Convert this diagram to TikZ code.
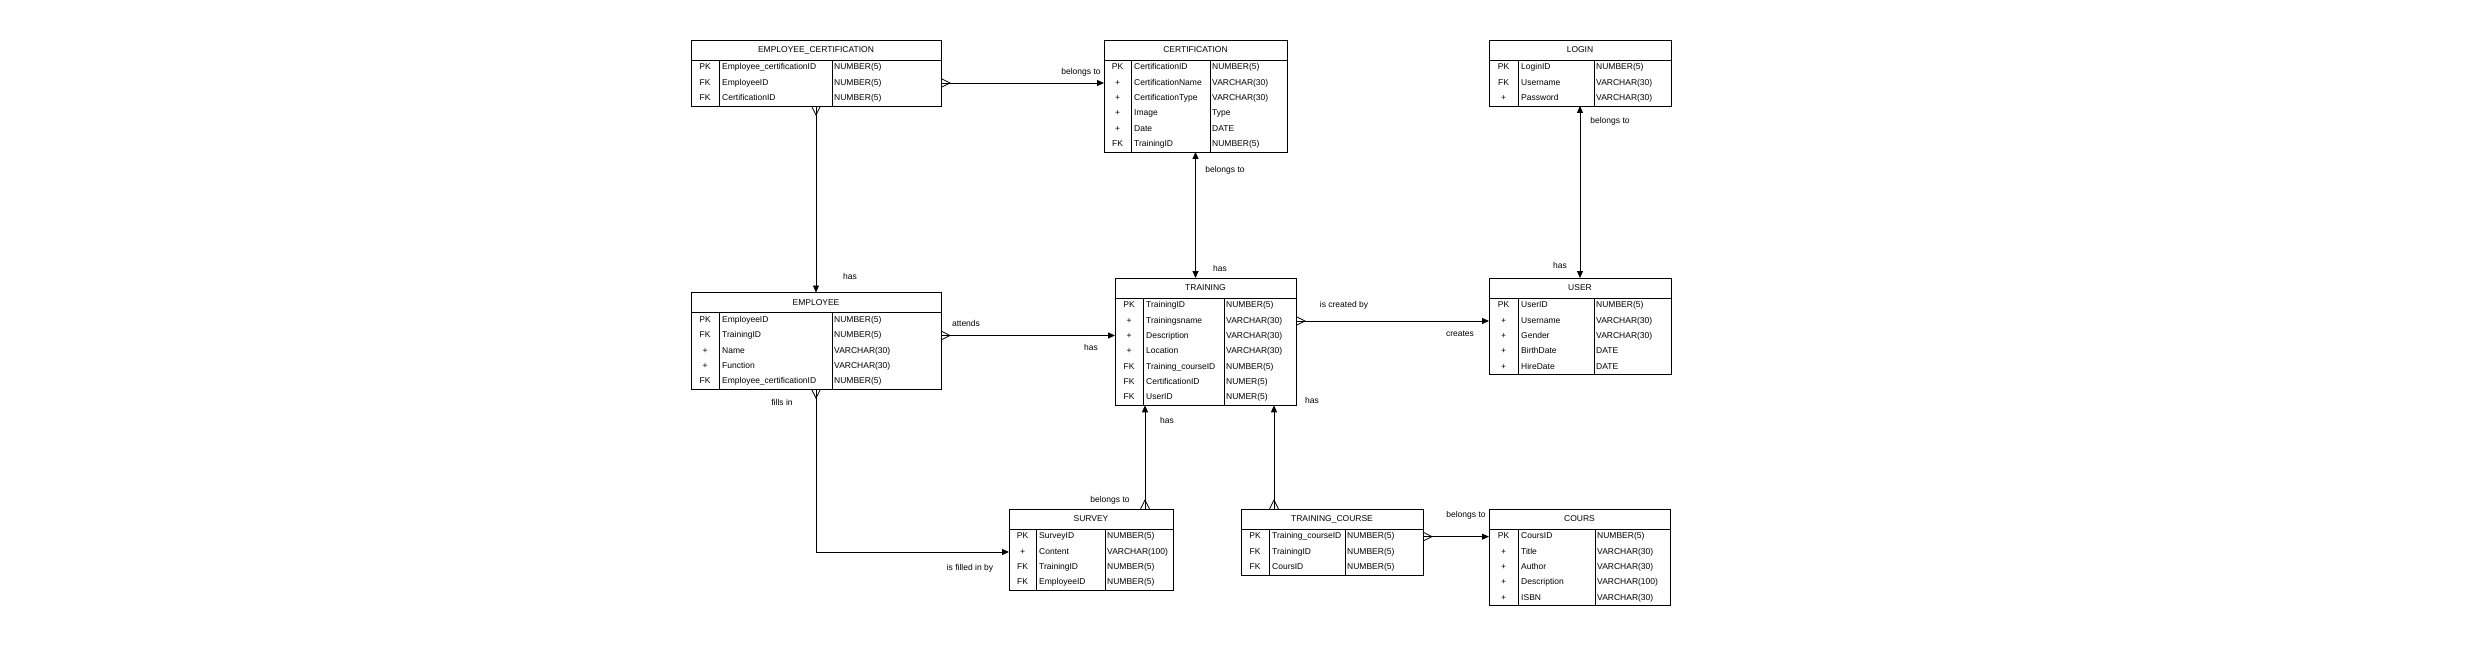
\documentclass[tikz,border=0pt]{standalone}
\usepackage{fontspec}
\setmainfont{Liberation Sans}
\usetikzlibrary{arrows.meta, positioning, calc}

\tikzset{
  ertext/.style={inner sep=0pt, text height=6.2pt, text depth=1.8pt},
  ertitle/.style={draw, line width=0.8pt, anchor=north west, minimum height=20pt, inner sep=0pt, outer sep=0pt},
  erbody/.style={draw, line width=0.8pt, anchor=north west, inner sep=0pt, outer sep=0pt},
  erkey/.style={ertext},
  erfield/.style={ertext, anchor=west},
  rel/.style={line width=0.9pt},
  lbl/.style={ertext},
  crowfoot/.pic={\draw[line width=0.8pt] (0,-4.5) -- (9,0) -- (0,4.5);}
}

% #1 name, #2 x, #3 y, #4 key col, #5 type col, #6 width, #7 title, #8 rows, #9 fields
\newcommand{\ertable}[9]{%
  \node[ertitle, minimum width=#6] (#1) at (#2,#3) {#7};
  \node[erbody, minimum width=#6, minimum height=#8*15.33] (#1-b) at (#1.south west) {};
  \draw[line width=0.8pt] ([xshift=#4]#1-b.north west) -- ([xshift=#4]#1-b.south west);
  \draw[line width=0.8pt] ([xshift=#5]#1-b.north west) -- ([xshift=#5]#1-b.south west);
  \foreach \k/\f/\t [count=\i] in {#9} {
    \node[erkey] (#1-k\i) at ([xshift=#4/2, yshift={-(\i-0.5)*15.33}]#1-b.north west) {\k};
    \node[erfield] (#1-\i) at ([xshift=#4+3, yshift={-(\i-0.5)*15.33}]#1-b.north west) {\f};
    \node[erfield] (#1-t\i) at ([xshift=#5+2, yshift={-(\i-0.5)*15.33}]#1-b.north west) {\t};
  }
}

\begin{document}
\begin{tikzpicture}[x=1pt, y=-1pt, font=\fontsize{8.5}{10}\selectfont,
  >={Triangle[length=7pt,width=6pt]}]
\useasboundingbox (0,0) rectangle (2479,655);

% tables
\ertable{ec}{691}{40}{28}{141}{250}{EMPLOYEE\_CERTIFICATION}{3}{
  PK/Employee\_certificationID/NUMBER(5), FK/EmployeeID/NUMBER(5), FK/CertificationID/NUMBER(5)}
\ertable{cert}{1104}{40}{27}{106}{183}{CERTIFICATION}{6}{
  PK/CertificationID/NUMBER(5), +/CertificationName/VARCHAR(30), +/CertificationType/VARCHAR(30),
  +/Image/Type, +/Date/DATE, FK/TrainingID/NUMBER(5)}
\ertable{login}{1489}{40}{29}{105}{182}{LOGIN}{3}{
  PK/LoginID/NUMBER(5), FK/Username/VARCHAR(30), +/Password/VARCHAR(30)}
\ertable{emp}{691}{292.5}{28}{141}{250}{EMPLOYEE}{5}{
  PK/EmployeeID/NUMBER(5), FK/TrainingID/NUMBER(5), +/Name/VARCHAR(30),
  +/Function/VARCHAR(30), FK/Employee\_certificationID/NUMBER(5)}
\ertable{train}{1115}{278}{28}{109}{181}{TRAINING}{7}{
  PK/TrainingID/NUMBER(5), +/Trainingsname/VARCHAR(30), +/Description/VARCHAR(30),
  +/Location/VARCHAR(30), FK/Training\_courseID/NUMBER(5), FK/CertificationID/NUMER(5),
  FK/UserID/NUMER(5)}
\ertable{user}{1489}{278}{29}{105}{182}{USER}{5}{
  PK/UserID/NUMBER(5), +/Username/VARCHAR(30), +/Gender/VARCHAR(30),
  +/BirthDate/DATE, +/HireDate/DATE}
\ertable{survey}{1009}{509}{27}{96}{164}{SURVEY}{4}{
  PK/SurveyID/NUMBER(5), +/Content/VARCHAR(100), FK/TrainingID/NUMBER(5), FK/EmployeeID/NUMBER(5)}
\ertable{tc}{1241}{509}{28}{104}{182}{TRAINING\_COURSE}{3}{
  PK/Training\_courseID/NUMBER(5), FK/TrainingID/NUMBER(5), FK/CoursID/NUMBER(5)}
\ertable{cours}{1489}{509}{29}{106}{181}{COURS}{5}{
  PK/CoursID/NUMBER(5), +/Title/VARCHAR(30), +/Author/VARCHAR(30),
  +/Description/VARCHAR(100), +/ISBN/VARCHAR(30)}

\coordinate (s-up) at ([xshift=54pt]survey.north);
\coordinate (tc-up) at ([xshift=-58pt]tc.north);

% relations
\draw[rel, ->] (ec-b.east |- ec-2) -- (ec-2 -| cert-b.west);
\draw[rel, ->] (ec-b.south) -- (emp.north);
\draw[rel, ->] (emp-b.east |- emp-2) -- (emp-2 -| train-b.west);
\draw[rel, ->] (emp-b.south) -- (emp-b.south |- survey-2) -- (survey-2 -| survey-b.west);
\draw[rel, <->] (cert-b.south) -- (cert-b.south |- train.north);
\draw[rel, ->] (train-b.east |- train-2) -- (train-2 -| user-b.west);
\draw[rel, <->] (login-b.south) -- (user.north);
\draw[rel, ->] (s-up) -- (s-up |- train-b.south);
\draw[rel, ->] (tc-up) -- (tc-up |- train-b.south);
\draw[rel, ->] (tc-b.east |- tc-1) -- (tc-1 -| cours-b.west);

% crow's feet
\pic at (ec-b.east |- ec-2) {crowfoot};
\pic[rotate=-90] at (ec-b.south) {crowfoot};
\pic at (emp-b.east |- emp-2) {crowfoot};
\pic[rotate=-90] at (emp-b.south) {crowfoot};
\pic at (train-b.east |- train-2) {crowfoot};
\pic[rotate=90] at (s-up) {crowfoot};
\pic[rotate=90] at (tc-up) {crowfoot};
\pic at (tc-b.east |- tc-1) {crowfoot};

% labels
\node[lbl] (l1) at (1081,72) {belongs to};
\node[lbl] (l2) at (850,277) {has};
\node[lbl] (l3) at (966,324) {attends};
\node[lbl] (l4) at (1091,348) {has};
\node[lbl] (l5) at (782,403) {fills in};
\node[lbl] (l6) at (970,568) {is filled in by};
\node[lbl] (l7) at (1225,170) {belongs to};
\node[lbl] (l8) at (1220,269) {has};
\node[lbl] (l9) at (1344,305) {is created by};
\node[lbl] (l10) at (1460,334) {creates};
\node[lbl] (l11) at (1610,121) {belongs to};
\node[lbl] (l12) at (1560,266) {has};
\node[lbl] (l13) at (1167,421) {has};
\node[lbl] (l14) at (1110,500) {belongs to};
\node[lbl] (l15) at (1312,401) {has};
\node[lbl] (l16) at (1466,515) {belongs to};
\end{tikzpicture}
\end{document}
